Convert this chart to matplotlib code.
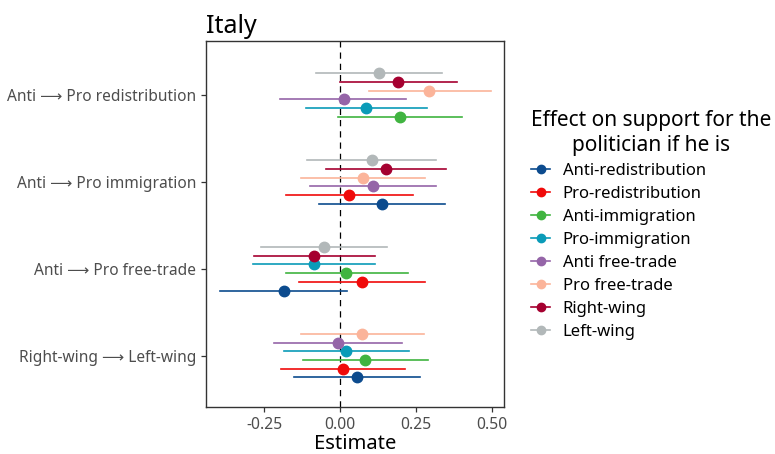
import matplotlib.pyplot as plt
from matplotlib.lines import Line2D
import numpy as np

plt.rcParams["font.family"] = ["Noto Sans", "DejaVu Sans"]

# categorias (de cima para baixo)
grupos = ["Anti \u27f6 Pro redistribution", "Anti \u27f6 Pro immigration",
          "Anti \u27f6 Pro free-trade", "Right-wing \u27f6 Left-wing"]

series = ["Anti-redistribution", "Pro-redistribution", "Anti-immigration",
          "Pro-immigration", "Anti free-trade", "Pro free-trade",
          "Right-wing", "Left-wing"]
cores = ["#0C4B8E", "#F00A0A", "#40B440", "#0A9BB8", "#9565A8",
         "#FBB49A", "#A50030", "#B2B8B9"]

nan = np.nan
est = {
    "Anti-redistribution": [nan, 0.136, -0.186, 0.054],
    "Pro-redistribution":  [nan, 0.030, 0.071, 0.008],
    "Anti-immigration":    [0.195, nan, 0.020, 0.083],
    "Pro-immigration":     [0.086, nan, -0.087, 0.020],
    "Anti free-trade":     [0.011, 0.107, nan, -0.008],
    "Pro free-trade":      [0.293, 0.075, nan, 0.072],
    "Right-wing":          [0.191, 0.150, -0.086, nan],
    "Left-wing":           [0.128, 0.103, -0.055, nan],
}
inf = {
    "Anti-redistribution": [nan, -0.071, -0.394, -0.153],
    "Pro-redistribution":  [nan, -0.178, -0.135, -0.195],
    "Anti-immigration":    [-0.009, nan, -0.180, -0.121],
    "Pro-immigration":     [-0.114, nan, -0.288, -0.184],
    "Anti free-trade":     [-0.197, -0.098, nan, -0.217],
    "Pro free-trade":      [0.093, -0.128, nan, -0.129],
    "Right-wing":          [-0.002, -0.048, -0.283, nan],
    "Left-wing":           [-0.080, -0.110, -0.262, nan],
}
sup = {
    "Anti-redistribution": [nan, 0.344, 0.022, 0.262],
    "Pro-redistribution":  [nan, 0.238, 0.280, 0.213],
    "Anti-immigration":    [0.400, nan, 0.223, 0.288],
    "Pro-immigration":     [0.286, nan, 0.115, 0.226],
    "Anti free-trade":     [0.217, 0.314, nan, 0.203],
    "Pro free-trade":      [0.496, 0.280, nan, 0.275],
    "Right-wing":          [0.384, 0.349, 0.113, nan],
    "Left-wing":           [0.335, 0.316, 0.155, nan],
}

fig = plt.figure(figsize=(7.75, 4.54), dpi=100)
ax = fig.add_axes([0.266, 0.1035, 0.3845, 0.806])

passo = 0.1
for g in range(len(grupos)):
    presentes = [s for s in series if not np.isnan(est[s][g])]
    n = len(presentes)
    for i, s in enumerate(presentes):
        y = g + ((n - 1) / 2 - i) * passo
        c = cores[series.index(s)]
        ax.plot([inf[s][g], sup[s][g]], [y, y], color=c, lw=1.2, zorder=2)
        ax.plot(est[s][g], y, "o", color=c, ms=7.5, zorder=3)

ax.axvline(0, color="black", ls=(0, (5, 4)), lw=0.9, zorder=1)

ax.set_xlim(-0.441, 0.539)
ax.set_ylim(3.59, -0.62)
ax.set_xticks([-0.25, 0, 0.25, 0.5])
ax.set_xticklabels(["-0.25", "0.00", "0.25", "0.50"])
ax.set_yticks(range(len(grupos)))
ax.set_yticklabels(grupos)
ax.tick_params(axis="both", colors="#333333", labelcolor="#4D4D4D",
               length=3.5, width=0.9)
ax.tick_params(axis="x", labelsize=11.3)
ax.tick_params(axis="y", labelsize=11.15)
for sp in ax.spines.values():
    sp.set_color("#333333")
    sp.set_linewidth(1.0)

ax.set_xlabel("Estimate", fontsize=14.5, labelpad=1)
ax.set_title("Italy", fontsize=18, loc="left", pad=6)

handles = [Line2D([0], [0], color=c, lw=1.2, marker="o", ms=6) for c in cores]
leg = fig.legend(handles, series, loc="upper left", bbox_to_anchor=(0.666, 0.79),
                 frameon=False, fontsize=12, title="Effect on support for the\npolitician if he is",
                 title_fontsize=15, handlelength=1.15, labelspacing=0.42, handletextpad=0.75,
                 alignment="left")
leg.get_title().set_multialignment("center")

fig.savefig("out.png", dpi=100)
